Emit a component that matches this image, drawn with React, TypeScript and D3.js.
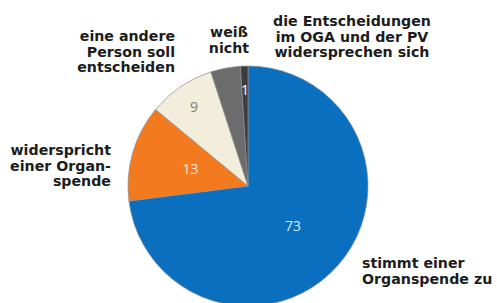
import React from "react";
import * as d3 from "d3";

const categories = [
  "stimmt einer Organspende zu",
  "widerspricht einer Organspende",
  "eine andere Person soll entscheiden",
  "weiß nicht",
  "die Entscheidungen im OGA und der PV widersprechen sich",
];
const values = [73, 13, 9, 4, 1];
const showValue = [true, true, true, false, true];
const colors = ["#0B6FBF", "#F47A20", "#F3EEDC", "#6C6C6C", "#3C3C3C"];
const valueColors = ["#D6ECFA", "#FDE3CC", "#7A7A7A", "#FFFFFF", "#FFFFFF"];
const labelLines = [
  ["stimmt einer", "Organspende zu"],
  ["widerspricht", "einer Organ-", "spende"],
  ["eine andere", "Person soll", "entscheiden"],
  ["weiß", "nicht"],
  ["die Entscheidungen", "im OGA und der PV", "widersprechen sich"],
];
const labelPos: { x: number; y: number; anchor: "start" | "middle" | "end" }[] = [
  { x: 362, y: 268, anchor: "start" },
  { x: 111, y: 155, anchor: "end" },
  { x: 175, y: 41, anchor: "end" },
  { x: 229, y: 37, anchor: "middle" },
  { x: 352, y: 26, anchor: "middle" },
];

export default function App() {
  const W = 497, H = 303;
  const cx = 248, cy = 186, R = 120;
  const pie = d3.pie<number>().sort(null).value((d) => d)(values);
  const arc = d3.arc<d3.PieArcDatum<number>>().innerRadius(0).outerRadius(R);
  const total = d3.sum(values);
  return (
    <svg width={W} height={H} style={{ position: "absolute", left: 0, top: 0, background: "#fff" }}>
      <g transform={`translate(${cx},${cy})`}>
        {pie.map((p, i) => (
          <path key={i} d={arc(p) || ""} fill={colors[i]} stroke="#8c8c8c" strokeWidth={0.7} />
        ))}
        {pie.map((p, i) => {
          if (!showValue[i]) return null;
          const frac = values[i] / total;
          const r = frac < 0.1 ? R * 0.8 : R * 0.5;
          const a = (p.startAngle + p.endAngle) / 2;
          const x = Math.sin(a) * r;
          const y = -Math.cos(a) * r;
          return (
            <text key={i} x={x} y={y} dy="0.35em" textAnchor="middle" fill={valueColors[i]}
              fontFamily="'Open Sans', sans-serif" fontSize={14}>
              {values[i]}
            </text>
          );
        })}
      </g>
      {labelLines.map((lines, i) => (
        <text key={i} x={labelPos[i].x} y={labelPos[i].y} textAnchor={labelPos[i].anchor}
          fontFamily="'DejaVu Sans', sans-serif" fontWeight="bold" fontSize={14.2} fill="#1c1c1c">
          {lines.map((l, j) => (
            <tspan key={j} x={labelPos[i].x} dy={j === 0 ? 0 : 15.7}>{l}</tspan>
          ))}
        </text>
      ))}
    </svg>
  );
}
